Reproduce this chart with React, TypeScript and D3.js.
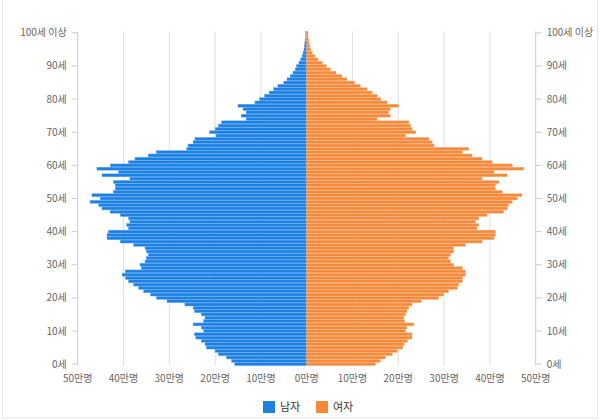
import * as d3 from "d3";

// ages 0..100 (100 = 100세 이상)
const AGES = d3.range(0, 101);

// population in 만명, index = age
const MALE = [
  15.7, 16.4, 17.5, 19.3, 20.0, 21.9, 22.2, 23.0, 24.2, 24.5,
  22.5, 23.0, 24.8, 22.5, 22.2, 23.0, 24.5, 24.8, 26.6, 30.5,
  32.8, 34.1, 35.6, 36.7, 37.8, 38.9, 39.6, 40.3, 39.6, 36.1,
  36.4, 35.3, 35.0, 34.6, 35.0, 35.3, 37.8, 40.7, 43.6, 43.6,
  43.3, 38.9, 39.3, 38.6, 38.9, 40.7, 42.9, 44.7, 45.4, 47.3,
  45.1, 46.9, 42.2, 41.8, 41.8, 42.2, 38.6, 44.7, 41.1, 45.8,
  42.9, 38.9, 37.5, 34.6, 32.8, 26.2, 25.9, 24.8, 24.4, 19.8,
  21.2, 20.0, 19.3, 18.6, 13.2, 14.3, 13.2, 13.9, 15.0, 11.3,
  10.3, 9.2, 8.2, 7.2, 6.3, 5.0, 4.3, 3.6, 3.0, 2.5,
  2.2, 1.7, 1.3, 1.0, 0.8, 0.6, 0.5, 0.4, 0.3, 0.2,
  0.2,
];

const FEMALE = [
  15.0, 16.1, 17.2, 18.7, 19.8, 21.0, 21.3, 22.0, 23.0, 23.0,
  21.6, 21.9, 23.4, 21.4, 21.2, 21.6, 21.9, 22.3, 23.0, 25.0,
  28.8, 29.9, 31.0, 32.9, 33.2, 34.0, 34.0, 34.7, 34.7, 34.0,
  32.1, 31.4, 31.0, 31.4, 32.1, 32.1, 34.7, 38.3, 40.9, 41.2,
  41.2, 37.2, 37.6, 36.9, 37.6, 39.4, 43.0, 43.8, 44.1, 44.9,
  46.0, 47.0, 42.7, 41.2, 41.2, 42.0, 38.3, 43.8, 40.9, 47.4,
  44.9, 40.5, 38.3, 36.1, 34.0, 35.4, 27.8, 27.4, 26.7, 21.6,
  23.8, 23.0, 22.7, 22.3, 15.4, 18.3, 17.9, 18.3, 20.1, 17.6,
  16.2, 15.4, 14.3, 13.2, 11.7, 10.5, 8.8, 7.7, 6.4, 5.2,
  4.3, 3.4, 2.5, 1.8, 1.2, 0.9, 0.7, 0.5, 0.4, 0.3,
  0.3,
];

const AGE_TICKS = [0, 10, 20, 30, 40, 50, 60, 70, 80, 90, 100];
const POP_TICKS = [0, 10, 20, 30, 40, 50];
const SERIES = ["남자", "여자"];

const W = 600;
const H = 420;
const FONT = "'Noto Sans CJK KR', 'Noto Sans', sans-serif";

const COLORS = {
  male: "#1c80e4",
  maleEdge: "#5aa6ee",
  female: "#f68a3a",
  femaleEdge: "#f9b07a",
  grid: "#e0e0e0",
  axis: "#cccccc",
  text: "#666666",
  legendText: "#333333",
};

const center = 306.7;
const half = 229;
const top = 31.4;
const bottom = 365.6;

export default function App() {
  const xMale = d3.scaleLinear().domain([0, 50]).range([center, center - half]);
  const xFemale = d3.scaleLinear().domain([0, 50]).range([center, center + half]);
  const y = d3
    .scaleBand<number>()
    .domain([...AGES].reverse())
    .range([top, bottom])
    .paddingInner(0.12);
  const yMid = (a: number) => (y(a) ?? 0) + y.bandwidth() / 2;

  const ageLabel = (a: number) => (a === 100 ? "100세 이상" : `${a}세`);

  return (
    <div style={{ position: "fixed", left: 0, top: 0, width: W, height: H, background: "#fff" }}>
      <svg width={W} height={H} style={{ display: "block", fontFamily: FONT }}>
        <rect x={2.5} y={-2} width={595} height={420} fill="#fff" stroke="#e6e6e6" />

        {/* grid */}
        {POP_TICKS.filter((t) => t > 0 && t < 50).map((t) => (
          <g key={`g${t}`}>
            <line x1={xMale(t)} x2={xMale(t)} y1={top} y2={bottom} stroke={COLORS.grid} />
            <line x1={xFemale(t)} x2={xFemale(t)} y1={top} y2={bottom} stroke={COLORS.grid} />
          </g>
        ))}

        {/* axes */}
        <line x1={xMale(50)} x2={xMale(50)} y1={top} y2={bottom} stroke={COLORS.axis} />
        <line x1={xFemale(50)} x2={xFemale(50)} y1={top} y2={bottom} stroke={COLORS.axis} />
        {AGE_TICKS.map((a) => (
          <g key={`t${a}`}>
            <line x1={xMale(50) - 6} x2={xMale(50)} y1={yMid(a)} y2={yMid(a)} stroke={COLORS.axis} />
            <line x1={xFemale(50)} x2={xFemale(50) + 6} y1={yMid(a)} y2={yMid(a)} stroke={COLORS.axis} />
            <text
              x={xMale(50) - 11}
              y={yMid(a)}
              dy="0.35em"
              textAnchor="end"
              fontSize={10}
              fill={COLORS.text}
            >
              {ageLabel(a)}
            </text>
            <text x={xFemale(50) + 11} y={yMid(a)} dy="0.35em" fontSize={10} fill={COLORS.text}>
              {ageLabel(a)}
            </text>
          </g>
        ))}

        {/* bars */}
        {AGES.map((a) => (
          <g key={`b${a}`}>
            <rect
              x={xMale(MALE[a])}
              y={y(a)}
              width={xMale(0) - xMale(MALE[a])}
              height={y.bandwidth()}
              fill={COLORS.male}
              stroke={COLORS.maleEdge}
              strokeWidth={0.4}
            />
            <rect
              x={xFemale(0)}
              y={y(a)}
              width={xFemale(FEMALE[a]) - xFemale(0)}
              height={y.bandwidth()}
              fill={COLORS.female}
              stroke={COLORS.femaleEdge}
              strokeWidth={0.4}
            />
          </g>
        ))}

        {/* bottom labels */}
        {POP_TICKS.map((t) => (
          <text key={`m${t}`} x={xMale(t)} y={378} dy="0.35em" textAnchor="middle" fontSize={10} fill={COLORS.text}>
            {`${t}만명`}
          </text>
        ))}
        {POP_TICKS.filter((t) => t > 0).map((t) => (
          <text key={`f${t}`} x={xFemale(t)} y={378} dy="0.35em" textAnchor="middle" fontSize={10} fill={COLORS.text}>
            {`${t}만명`}
          </text>
        ))}

        {/* legend */}
        {SERIES.map((s, i) => (
          <g key={s} transform={`translate(${263 + i * 53},401)`}>
            <rect x={0} y={0} width={12} height={12} fill={i === 0 ? COLORS.male : COLORS.female} />
            <text x={17} y={6} dy="0.35em" fontSize={11} fill={COLORS.legendText}>
              {s}
            </text>
          </g>
        ))}
      </svg>
    </div>
  );
}
